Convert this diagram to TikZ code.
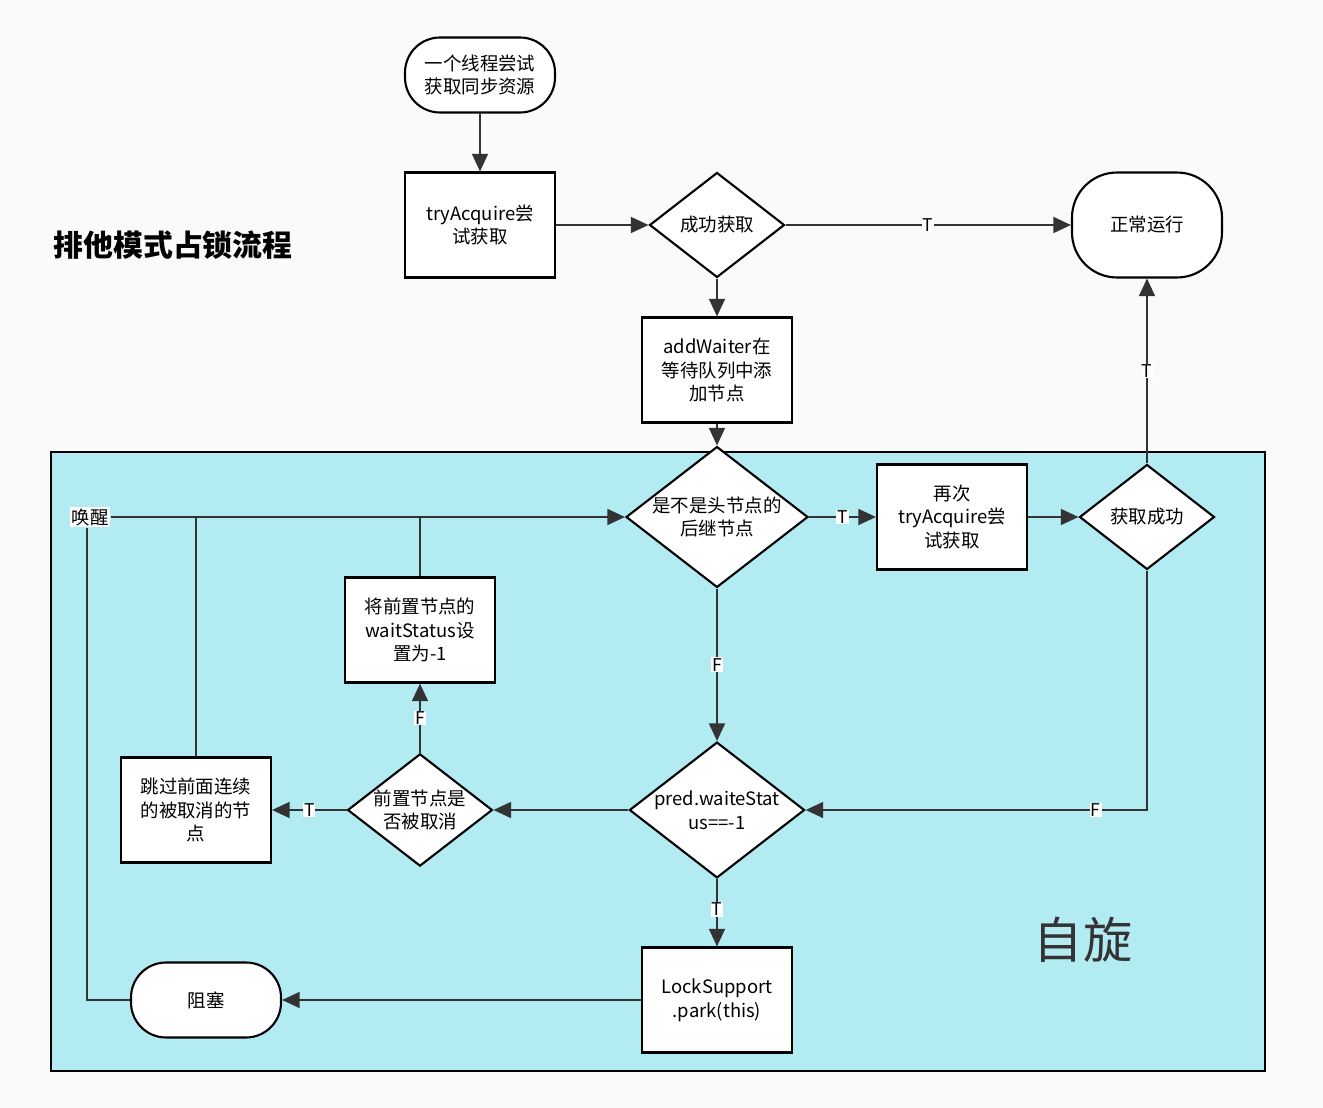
\documentclass[tikz,border=0pt]{standalone}
\usepackage{fontspec}
\setmainfont{Noto Sans CJK SC}
\usetikzlibrary{shapes.geometric,arrows.meta}
\definecolor{spinbg}{HTML}{B2EBF2}
\tikzset{
  box/.style={draw, line width=1.2pt, fill=white, minimum width=3cm, minimum height=2.1cm, align=center, inner sep=1pt, text width=2.7cm, font=\fontsize{10.5}{13.5}\selectfont},
  term/.style={box, rounded corners=0.7cm, minimum height=1.5cm},
  term2/.style={box, rounded corners=0.9cm},
  dec/.style={draw, diamond, line width=1.2pt, fill=white, aspect=1.29, inner sep=0pt, minimum width=2.7cm, minimum height=2.1cm, align=center, font=\fontsize{10.5}{13.5}\selectfont},
  flow/.style={line width=1.2pt, draw=black!80, -{Triangle[length=10pt,width=9pt]}},
  line/.style={line width=1.2pt, draw=black!80},
  lab/.style={fill=white, inner sep=0.5pt, font=\fontsize{10}{11}\selectfont}
}
\begin{document}
\begin{tikzpicture}[x=0.02cm, y=-0.02cm]
  \fill[black!2] (0,0) rectangle (1323,1108);
  \useasboundingbox (0,0) rectangle (1323,1108);
  \draw[line width=1.2pt, fill=spinbg] (51,452) rectangle (1265,1071);
  \node[font=\bfseries\fontsize{17}{20}\selectfont] (title) at (173,245) {排他模式占锁流程};
  \node[font=\fontsize{28}{32}\selectfont, text=black!80] (spin) at (1083,940) {自旋};
  % main path
  \node[term] (start) at (480,75) {一个线程尝试\\获取同步资源};
  \node[box] (try) at (480,225) {tryAcquire尝\\试获取};
  \node[dec] (succ) at (717,225) {成功获取};
  \node[term2] (normal) at (1147,225) {正常运行};
  \node[box] (add) at (717,370) {addWaiter在\\等待队列中添\\加节点};
  % spin loop
  \node[dec, minimum width=3.64cm, minimum height=2.4cm] (head) at (717,517) {是不是头节点的\\后继节点};
  \node[box] (retry) at (952,517) {再次\\tryAcquire尝\\试获取};
  \node[dec] (got) at (1147,517) {获取成功};
  \node[dec, minimum width=3.5cm, minimum height=2.4cm] (pred) at (717,810) {pred.waiteStat\\us==-1};
  \node[dec] (cancel) at (420,810) {前置节点是\\否被取消};
  \node[box] (set) at (420,630) {将前置节点的\\waitStatus设\\置为-1};
  \node[box] (skip) at (196,810) {跳过前面连续\\的被取消的节\\点};
  \node[box] (park) at (717,1000) {LockSupport\\.park(this)};
  \node[term] (block) at (206,1000) {阻塞};
  \node[fill=white, inner sep=1pt, font=\fontsize{10.5}{12}\selectfont] (wake) at (90,517) {唤醒};
  \coordinate (c1) at (87,1000);
  \coordinate (j1) at (196,517);
  \coordinate (j2) at (420,517);
  \coordinate (c2) at (1147,810);
  % connectors
  \draw[flow] (start) -- (try);
  \draw[flow] (try) -- (succ);
  \draw[flow] (succ) -- node[lab] {T} (normal);
  \draw[flow] (succ) -- (add);
  \draw[flow] (add) -- (head);
  \draw[flow] (head) -- node[lab] {T} (retry);
  \draw[flow] (retry) -- (got);
  \draw[flow] (got) -- node[lab] {T} (normal);
  \draw[flow] (got) -- (c2) -- node[lab, pos=0.15] {F} (pred);
  \draw[flow] (head) -- node[lab, pos=0.5] {F} (pred);
  \draw[flow] (pred) -- (cancel);
  \draw[flow] (cancel) -- node[lab] {F} (set);
  \draw[flow] (cancel) -- node[lab] {T} (skip);
  \draw[flow] (pred) -- node[lab, pos=0.45] {T} (park);
  \draw[flow] (park) -- (block);
  \draw[line] (block) -- (c1) -- (wake.south -| c1);
  \draw[flow] (wake) -- (head);
  \draw[line] (skip) -- (j1);
  \draw[line] (set) -- (j2);
\end{tikzpicture}
\end{document}
